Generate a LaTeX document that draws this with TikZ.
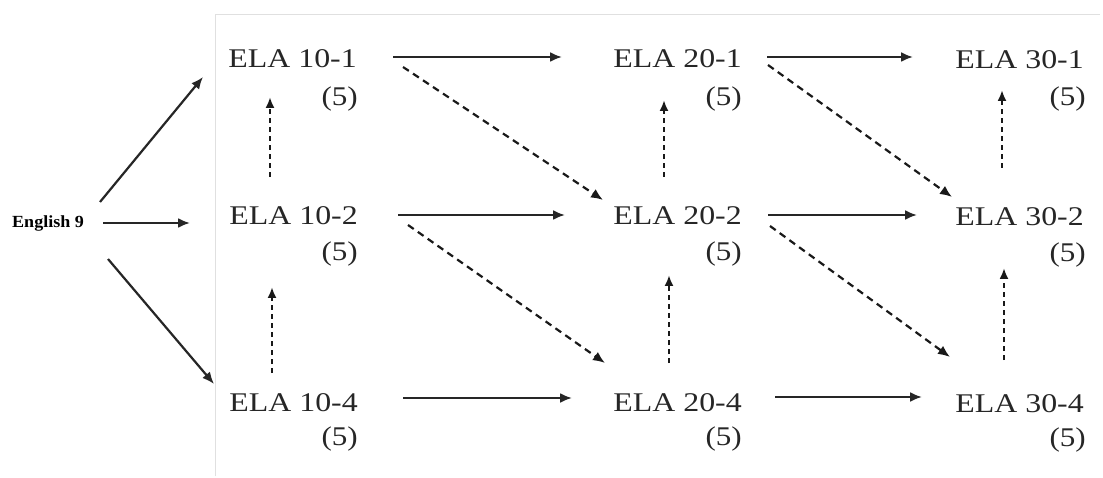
\documentclass[tikz,border=0pt]{standalone}
\usepackage{fontspec}
\setmainfont{Liberation Serif}
\usetikzlibrary{arrows.meta,calc}
\begin{document}
\begin{tikzpicture}[x=1pt,y=-1pt,
  course/.style={inner sep=0pt,anchor=base east,xscale=1.18,font=\fontsize{27}{27}\selectfont,text=black!85},
  credit/.style={inner sep=0pt,anchor=base east,xscale=1.15,font=\fontsize{27}{27}\selectfont,text=black!85},
  startbox/.style={inner sep=0pt,anchor=base west,xscale=1.06,font=\bfseries\fontsize{17}{17}\selectfont},
  solidarrow/.style={line width=2.2pt,draw=black!85,-{Latex[length=12pt,width=10pt]}},
  dasharrow/.style={line width=2.2pt,draw=black!90,dash pattern=on 7pt off 5pt,-{Latex[length=12pt,width=10pt]}},
  vdasharrow/.style={line width=2.2pt,draw=black!90,dash pattern=on 5pt off 4pt,-{Latex[length=11pt,width=9pt]}},
  frameline/.style={draw=black!12,line width=1pt}]
\useasboundingbox (0,0) rectangle (1103,478);
\fill[white] (0,0) rectangle (1103,478);
\draw[frameline] (215,476) -- (215,15) -- (1100,15);

\node[startbox] (eng) at (12,228) {English 9};

\node[course] (a1) at (357,68) {ELA 10-1};
\node[credit] (a1c) at (358,106) {(5)};
\node[course] (a2) at (358,225) {ELA 10-2};
\node[credit] (a2c) at (358,261) {(5)};
\node[course] (a3) at (358,411) {ELA 10-4};
\node[credit] (a3c) at (358,445) {(5)};

\node[course] (b1) at (742,68) {ELA 20-1};
\node[credit] (b1c) at (742,106) {(5)};
\node[course] (b2) at (742,225) {ELA 20-2};
\node[credit] (b2c) at (742,261) {(5)};
\node[course] (b3) at (742,411) {ELA 20-4};
\node[credit] (b3c) at (742,445) {(5)};

\node[course] (c1) at (1084,69) {ELA 30-1};
\node[credit] (c1c) at (1086,106) {(5)};
\node[course] (c2) at (1084,226) {ELA 30-2};
\node[credit] (c2c) at (1086,262) {(5)};
\node[course] (c3) at (1084,412) {ELA 30-4};
\node[credit] (c3c) at (1086,446) {(5)};

% from English 9
\draw[solidarrow] ($(eng.base west)+(88,-26)$) -- ($(a1.base east)+(-154,9)$);
\draw[solidarrow] ($(eng.base west)+(91,-5)$) -- ($(a2.base east)+(-168,-2)$);
\draw[solidarrow] ($(eng.base west)+(96,31)$) -- ($(a3.base east)+(-144,-27)$);

% horizontal
\draw[solidarrow] ($(a1.base east)+(36,-11)$) -- ($(b1.base east)+(-180,-11)$);
\draw[solidarrow] ($(b1.base east)+(25,-11)$) -- ($(c1.base east)+(-171,-12)$);
\draw[solidarrow] ($(a2.base east)+(40,-10)$) -- ($(b2.base east)+(-177,-10)$);
\draw[solidarrow] ($(b2.base east)+(26,-10)$) -- ($(c2.base east)+(-167,-11)$);
\draw[solidarrow] ($(a3.base east)+(45,-13)$) -- ($(b3.base east)+(-170,-13)$);
\draw[solidarrow] ($(b3.base east)+(33,-14)$) -- ($(c3.base east)+(-162,-15)$);

% dashed diagonals
\draw[dasharrow] ($(a1.base east)+(46,-1)$) -- ($(b2.base east)+(-139,-25)$);
\draw[dasharrow] ($(b1.base east)+(26,-3)$) -- ($(c2.base east)+(-132,-29)$);
\draw[dasharrow] ($(a2.base east)+(50,0)$) -- ($(b3.base east)+(-137,-48)$);
\draw[dasharrow] ($(b2.base east)+(28,1)$) -- ($(c3.base east)+(-134,-55)$);

% dashed verticals
\draw[vdasharrow] ($(a2.base east)+(-88,-48)$) -- ($(a1.base east)+(-87,29)$);
\draw[vdasharrow] ($(a3.base east)+(-86,-38)$) -- ($(a2.base east)+(-86,62)$);
\draw[vdasharrow] ($(b2.base east)+(-78,-48)$) -- ($(b1.base east)+(-78,32)$);
\draw[vdasharrow] ($(b3.base east)+(-73,-48)$) -- ($(b2.base east)+(-73,50)$);
\draw[vdasharrow] ($(c2.base east)+(-82,-58)$) -- ($(c1.base east)+(-82,21)$);
\draw[vdasharrow] ($(c3.base east)+(-80,-52)$) -- ($(c2.base east)+(-80,42)$);
\end{tikzpicture}
\end{document}
